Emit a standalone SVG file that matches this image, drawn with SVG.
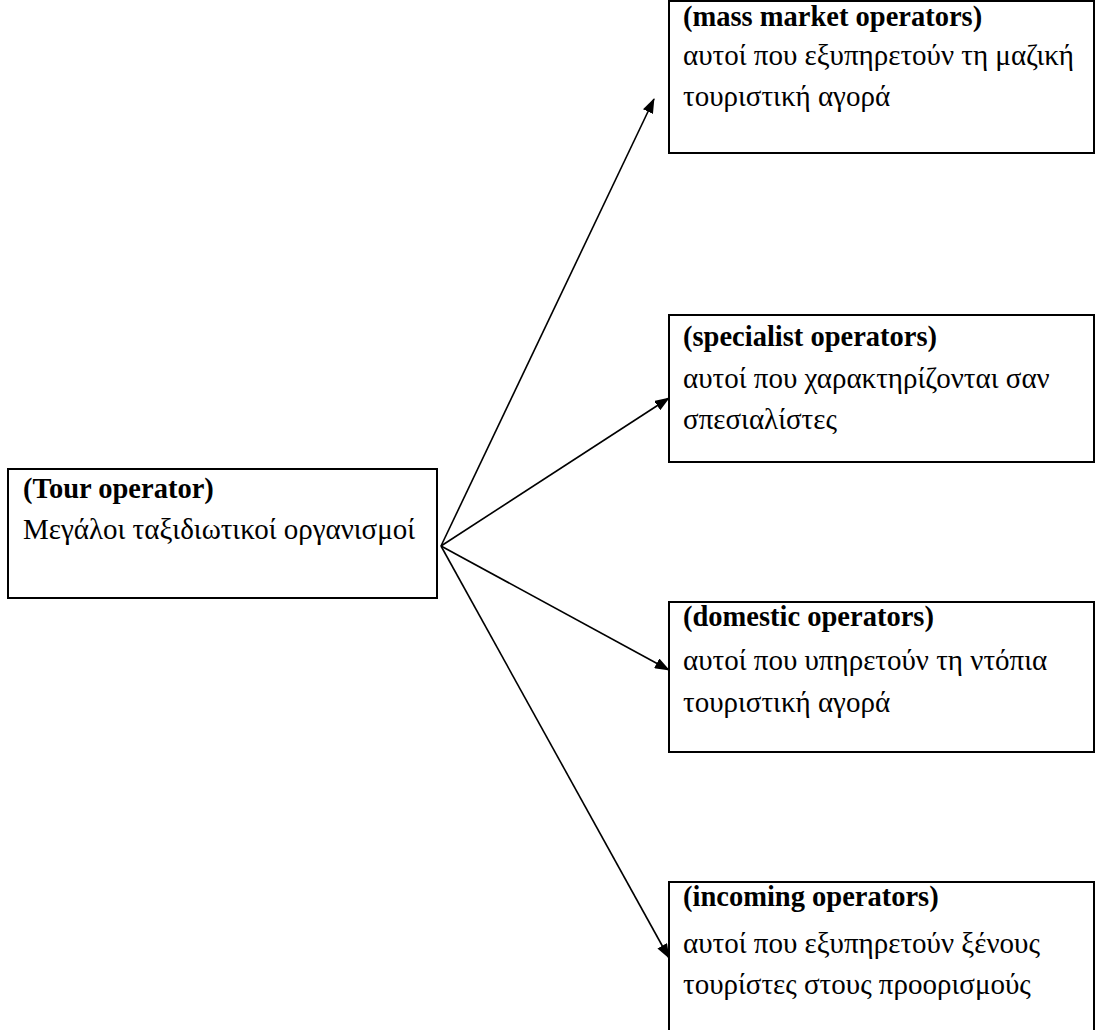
<svg xmlns="http://www.w3.org/2000/svg" width="1096" height="1030" viewBox="0 0 1096 1030">
<style>
.box{fill:#fff;stroke:#000;stroke-width:2}
text{font-family:"Liberation Serif","Times New Roman",serif;font-size:29px;fill:#000}
.t{font-weight:bold;font-size:28.5px}
.c{stroke:#000;stroke-width:1.6;fill:none}
</style>
<defs>
<marker id="ah" markerWidth="15" markerHeight="11" refX="14" refY="5.5" orient="auto" markerUnits="userSpaceOnUse">
<path d="M0,0 L15,5.5 L0,11 Z" fill="#000"/>
</marker>
</defs>
<rect width="1096" height="1030" fill="#fff"/>
<g id="n0">
<rect class="box" x="8" y="469" width="429" height="129"/>
<text class="t" x="23" y="498">(Tour operator)</text>
<text x="23" y="539">Μεγάλοι ταξιδιωτικοί οργανισμοί</text>
</g>
<g id="n1">
<rect class="box" x="669" y="1" width="425" height="152"/>
<text class="t" x="683" y="25.5">(mass market operators)</text>
<text x="683" y="65">αυτοί που εξυπηρετούν τη μαζική</text>
<text x="683" y="106">τουριστική αγορά</text>
</g>
<g id="n2">
<rect class="box" x="669" y="315" width="425" height="147"/>
<text class="t" x="683" y="346">(specialist operators)</text>
<text x="683" y="388">αυτοί που χαρακτηρίζονται σαν</text>
<text x="683" y="429">σπεσιαλίστες</text>
</g>
<g id="n3">
<rect class="box" x="669" y="602" width="425" height="150"/>
<text class="t" x="683" y="626">(domestic operators)</text>
<text x="683" y="670">αυτοί που υπηρετούν τη ντόπια</text>
<text x="683" y="712">τουριστική αγορά</text>
</g>
<g id="n4">
<rect class="box" x="669" y="882" width="425" height="160"/>
<text class="t" x="683" y="906">(incoming operators)</text>
<text x="683" y="953">αυτοί που εξυπηρετούν ξένους</text>
<text x="683" y="994">τουρίστες στους προορισμούς</text>
</g>
<g id="connectors">
<line class="c" x1="441" y1="546" x2="654" y2="99" marker-end="url(#ah)"/>
<line class="c" x1="441" y1="546" x2="669" y2="398" marker-end="url(#ah)"/>
<line class="c" x1="441" y1="546" x2="669" y2="670" marker-end="url(#ah)"/>
<line class="c" x1="441" y1="546" x2="669" y2="958" marker-end="url(#ah)"/>
</g>
</svg>
